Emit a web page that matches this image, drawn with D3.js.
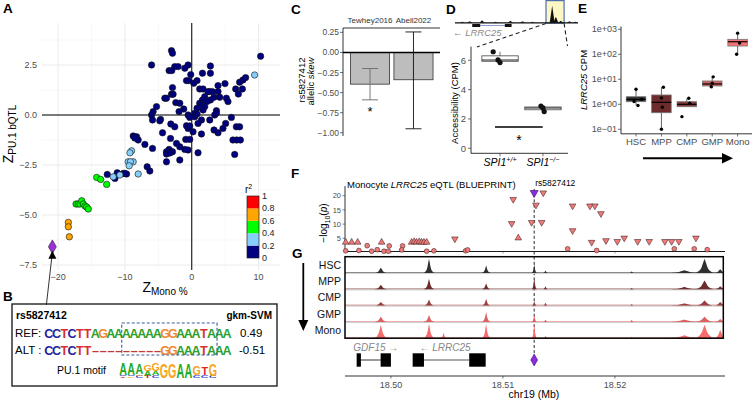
<!DOCTYPE html>
<html><head><meta charset="utf-8">
<script src="https://cdn.jsdelivr.net/npm/d3@7/dist/d3.min.js"></script>
<style>html,body{margin:0;padding:0;background:#fff;}svg{display:block;font-family:"Liberation Sans",Arial,Helvetica,sans-serif;}</style>
</head><body>
<svg id="chart" width="754" height="401"></svg>
<script>
// ================= DATA =================
// Panel A : Z(Mono %) vs Z(PU.1 bQTL), grouped by r2 class
const r2Colors = ["#000080","#87CEFA","#00FF00","#FFA500","#FF0000"];
const r2LegendTicks = [0,0.2,0.4,0.6,0.8,1];
const aXTicks = [-20,-10,0,10];
const aXMinor = [-15,-5,5];
const aYTicks = [2.5,0,-2.5,-5,-7.5];
const aYMinor = [3.75,1.25,-1.25,-3.75,-6.25];
const snpsR2_0 = [[-3.03,3.22],[-2.88,3.09],[-6.01,2.5],[-3.39,2.22],[-2.99,2.22],[-2.54,2.42],[-2.04,2.42],[-1.04,2.34],[-0.55,2.5],[-0.15,2.02],[2.79,2.45],[2.79,2.09],[1.6,2.09],[10.3,2.94],[8.06,1.87],[7.66,1.75],[7.16,1.64],[-0.79,1.72],[-0.45,1.72],[0.79,1.72],[0.3,1.59],[3.93,1.47],[4.97,1.57],[-2.88,1.37],[1.19,1.3],[1.69,1.3],[2.69,1.17],[2.43,1.17],[3.09,1.17],[6.57,1.3],[7.57,1.3],[6.97,1.05],[3.93,1.17],[-3.03,1.04],[-2.79,1.04],[-4.03,0.84],[-3.78,0.84],[1.94,0.92],[1.6,0.75],[3.33,0.89],[4.18,0.89],[5.18,0.84],[5.42,0.67],[2.79,0.75],[2.28,0.67],[-2.39,0.62],[-1.79,0.59],[1.19,0.59],[1.45,0.5],[1.94,0.42],[-5.27,0.42],[-5.78,0.17],[-6.01,0],[-1.9,0.17],[-0.55,0],[-0.3,-0.12],[3.69,0.22],[3.43,0],[0.79,0.34],[0.45,0.09],[5.93,-0.12],[-4.67,-0.22],[-5.87,-0.25],[-4.78,-0.29],[0.45,-0.09],[0.79,0.05],[2.69,-0.25],[1.45,-0.25],[0.94,-0.42],[3.69,0.1],[5.07,-0.42],[4.67,-0.67],[3.93,-0.89],[3.33,-0.75],[-3.13,-0.45],[-2.54,-0.59],[-0.79,-0.54],[-0.55,-0.67],[-0.3,-0.55],[0.19,-0.84],[1.45,-0.95],[-4.37,-0.89],[-8.76,-1.05],[-8.25,-1.09],[-8.01,-1.25],[-8.51,-1.15],[-7.01,-1.47],[-5.87,-1.67],[-3.18,-1.17],[-2.28,-1.42],[-1.79,-1.59],[-0.9,-1.22],[-0.3,-1.22],[-1.04,-1.72],[-0.55,-1.75],[-3.39,-1.72],[-2.88,-1.84],[-3.78,-1.84],[-3.78,-1.95],[0.94,-1.89],[6.67,-0.59],[7.16,-0.59],[6.16,-1.25],[6.72,-1.25],[7.27,-1.25],[6.42,-1.97],[-3.78,-2.34],[-1.79,-2.25],[-6.67,-2.59],[-6.27,-2.8],[-10.25,-2.92],[-9.75,-2.95],[-12.64,-2.97],[-11.15,-2.89],[-11.49,-3.17],[-10.0,-2.92],[-3.28,-1.9],[1.69,0.25],[-1.2,0.3]];
const snpsR2_02 = [[9.4,2.0],[-9.0,-1.79],[-9.25,-1.89],[-9.51,-2.34],[-8.76,-2.34],[-9.18,-2.34],[-9.36,-2.54],[-8.01,-2.95],[-10.75,-3.0],[-11.75,-3.09]];
const snpsR2_04 = [[-14.22,-3.12],[-13.63,-3.22],[-12.73,-3.47],[-17.31,-4.45],[-17.01,-4.45],[-16.72,-4.45],[-16.46,-4.29],[-16.22,-4.45],[-15.97,-4.55],[-15.72,-4.6],[-15.48,-4.7]];
const snpsR2_06 = [[-18.46,-5.37],[-18.46,-5.59],[-18.31,-6.09]];
const leadSnp = [-20.85,-6.59];

// Panel B : sequences
const seqRef = "CCTCTTAGAAAAAAAGGAAATAAA";
const seqAlt = "CCTCTT---------GGAAATAAA";
const gkmScores = ["0.49","-0.51"];
const motifWindow = [9.9,22.2];
const motifCols = [
  [["T",1.5],["C",1.5],["A",12]],[["G",1.5],["C",1.5],["A",12]],[["C",2],["G",1.5],["A",11]],
  [["T",2],["A",5],["G",7]],[["C",3],["A",4],["G",8]],[["G",15]],[["G",15]],[["A",15]],[["A",15]],
  [["C",3],["G",9]],[["C",3],["T",8]],[["C",2],["G",12]]
];

// Panel C : allelic skew
const cStudies = ["Tewhey2016","Abell2022"];
const cSkew = [-0.395,-0.34];
const cLow = [-0.59,-0.95];
const cHigh = [-0.2,0.255];
const cTicks = [0.25,0,-0.25,-0.5,-0.75,-1];

// Panel D : accessibility
const dGroups = ["SPI1+/+","SPI1-/-"];
const dValues = [[6.58,6.02,5.84],[2.88,2.75,2.5]];
const dJitter = [[-0.17,-0.05,0.0],[-0.05,0.0,0.03]];
const dTicks = [0,2,4,6];
const dMiniPeaks = [[0.06,1],[0.12,1.5],[0.22,2.5],[0.33,1],[0.45,2],[0.55,1.5],[0.63,1],[0.79,17],[0.82,6],[0.86,2],[0.93,1.5],[0.98,1]];
const dMiniGene = [[0.14,0.205],[0.405,0.46]];

// Panel E : LRRC25 CPM
const eCells = ["HSC","MPP","CMP","GMP","Mono"];
const eColors = ["#333333","#6e2b2b","#8e3a3a","#d96262","#f47272"];
const eQ1 = [1.27,0.46,0.8,5.4,214];
const eMed = [1.58,1.2,1.0,6.5,318];
const eQ3 = [2.01,2.36,1.27,8.56,398];
const eLo = [0.91,0.1,0.8,4.4,102];
const eHi = [4.0,4.8,1.74,12.7,730];
const ePoints = [[4.0,1.6,1.3,0.9],[4.8,1.8,0.76,0.1],[1.74,1.1,0.32],[12.5,7.0,5.0],[700,280,100]];
const eTicks = [0.1,1,10,100,1000];
const eTickLabels = ["1e\u221201","1e+00","1e+01","1e+02","1e+03"];

// Panel F : eQTL
const fPos = [18.49596,18.49649,18.49703,18.49596,18.49714,18.49788,18.49828,18.49878,18.49917,18.49938,18.49985,18.49976,18.50104,18.50096,18.50185,18.50208,18.50229,18.50253,18.50274,18.50295,18.50319,18.50319,18.50384,18.50571,18.50667,18.50685,18.51092,18.51078,18.51137,18.51256,18.5136,18.51295,18.51346,18.51578,18.51622,18.51622,18.51777,18.51821,18.51875,18.51792,18.51837,18.5192,18.52021,18.52083,18.52203,18.52306,18.52446,18.52506,18.52571,18.5253,18.52723,18.52708,18.52824];
const fLogP = [3.6,3.6,3.6,0.6,0.7,2.4,0.45,1.0,3.6,0.45,2.3,0.45,2.3,0.9,3.6,3.8,3.6,3.8,3.6,3.6,3.6,0.45,0.6,4.8,0.6,0.9,18.7,10.2,5.1,10.6,21,16.7,10.6,1.3,16.4,7.7,16.4,16.4,13.7,3.6,0.7,4.2,3.9,5.1,3.9,3.9,3.9,3.9,3.9,1.3,5.1,1.3,1.0];
const fShape = ["u","u","u","c","c","c","c","c","u","c","c","c","c","c","u","u","u","u","u","u","u","c","c","d","c","c","d","d","u","d","d","d","d","c","d","d","d","d","d","d","c","d","d","d","d","d","d","d","d","c","d","c","c"];
const fLead = [18.51279,21];
const fTicks = [5,10,15,20];
const chrTicks = [18.50,18.51,18.52];

// Panel G : ATAC tracks
const gTracks = ["HSC","MPP","CMP","GMP","Mono"];
const gColors = ["#303030","#6e2b2b","#9a3f3f","#dc6262","#f76c6c"];
const gPeakPos = [18.4991,18.5034,18.5047,18.5085,18.5128,18.5138,18.5215,18.5262,18.5280,18.5294];
const gPeakWidth = [0.0006,0.0005,0.0003,0.0004,0.00025,0.00025,0.0002,0.0016,0.0009,0.0006];
const gHeights = [
  [0.35,0.95,0.0,0.5,0.6,0.15,0.12,0.18,0.95,0.25],
  [0.3,0.7,0.0,0.4,0.75,0.2,0.1,0.15,0.6,0.2],
  [0.25,0.4,0.0,0.45,0.3,0.2,0.1,0.15,0.35,0.25],
  [0.35,0.45,0.0,0.65,0.45,0.15,0.15,0.15,0.35,0.2],
  [0.9,0.95,0.35,0.95,0.95,0.15,0.1,0.2,0.9,0.55]
];
const geneExons = [[18.49694,18.49732],[18.49908,18.5],[18.50194,18.50295],[18.50699,18.50846]];
const geneIntrons = [[18.49732,18.49908],[18.50295,18.50699]];

// ================= DRAW =================
const svg = d3.select("#chart");
svg.append("rect").attr("width",754).attr("height",401).attr("fill","#fff");
const TXT = "#4d4d4d";
function txt(g,x,y,s,o={}){
  const e=g.append("text").attr("x",x).attr("y",y).text(s)
    .attr("font-size",o.size||9).attr("fill",o.fill||"#000");
  if(o.anchor)e.attr("text-anchor",o.anchor);
  if(o.bold)e.attr("font-weight","bold");
  if(o.italic)e.attr("font-style","italic");
  return e;
}
// panel letters
[["A",3,13],["B",3,301],["C",291,13.5],["D",446,13.5],["E",578,13],["F",291,178],["G",292,258]]
  .forEach(d=>txt(svg,d[1],d[2],d[0],{size:13.5,bold:true}));

// ---------- Panel A ----------
const gA = svg.append("g");
const ax = d3.scaleLinear().domain([-22.4,13.2]).range([42,280]);
const ay = d3.scaleLinear().domain([4.6,-7.75]).range([23,270]);
aXMinor.forEach(v=>gA.append("line").attr("x1",ax(v)).attr("x2",ax(v)).attr("y1",23).attr("y2",270).attr("stroke","#f2f2f2").attr("stroke-width",0.6));
aYMinor.forEach(v=>gA.append("line").attr("y1",ay(v)).attr("y2",ay(v)).attr("x1",42).attr("x2",280).attr("stroke","#f2f2f2").attr("stroke-width",0.6));
aXTicks.forEach(v=>gA.append("line").attr("x1",ax(v)).attr("x2",ax(v)).attr("y1",23).attr("y2",270).attr("stroke","#ebebeb").attr("stroke-width",1));
aYTicks.forEach(v=>gA.append("line").attr("y1",ay(v)).attr("y2",ay(v)).attr("x1",42).attr("x2",280).attr("stroke","#ebebeb").attr("stroke-width",1));
gA.append("line").attr("x1",ax(0)).attr("x2",ax(0)).attr("y1",23).attr("y2",270).attr("stroke","#000").attr("stroke-width",1);
gA.append("line").attr("y1",ay(0)).attr("y2",ay(0)).attr("x1",42).attr("x2",280).attr("stroke","#000").attr("stroke-width",1);
const fmtA = d3.format(".1f"), fmtAx = d3.format("d");
aYTicks.forEach(v=>txt(gA,37,ay(v)+3,fmtA(v),{size:9,fill:TXT,anchor:"end"}));
aXTicks.forEach(v=>txt(gA,ax(v),280,fmtAx(v),{size:9,fill:TXT,anchor:"middle"}));
// titles
const xt = gA.append("text").attr("x",165).attr("y",292).attr("text-anchor","middle");
xt.append("tspan").text("Z").attr("font-size",14);
xt.append("tspan").text("Mono %").attr("font-size",10).attr("dy",3);
const yt = gA.append("text").attr("transform","translate(13,134) rotate(-90)").attr("text-anchor","middle");
yt.append("tspan").text("Z").attr("font-size",14);
yt.append("tspan").text("PU.1 bQTL").attr("font-size",10).attr("dy",3);
// points
[[snpsR2_0,0],[snpsR2_02,1],[snpsR2_04,2],[snpsR2_06,3]].forEach(([arr,ci])=>{
  gA.selectAll(null).data(arr).enter().append("circle")
    .attr("cx",d=>ax(d[0])).attr("cy",d=>ay(d[1])).attr("r",3.2)
    .attr("fill",r2Colors[ci]).attr("stroke","#111").attr("stroke-width",0.6);
});
gA.append("path").attr("d",d3.symbol(d3.symbolDiamond,55)())
  .attr("transform",`translate(${ax(leadSnp[0])},${ay(leadSnp[1])})`)
  .attr("fill","#9a30d8").attr("stroke","#222").attr("stroke-width",0.6);
// arrow from B to lead SNP
const lx = ax(leadSnp[0]), ly = ay(leadSnp[1]);
gA.append("line").attr("x1",lx-6).attr("y1",305).attr("x2",lx-0.5).attr("y2",ly+10).attr("stroke","#000").attr("stroke-width",0.8);
gA.append("path").attr("d",`M${lx},${ly+4} L${lx-4},${ly+12} L${lx+4},${ly+12} Z`).attr("fill","#000");
// r2 legend
const lg = d3.scaleLinear().domain([0,1]).range([258,196]);
for(let i=0;i<5;i++){
  gA.append("rect").attr("x",247).attr("width",12).attr("y",lg(r2LegendTicks[i+1])).attr("height",lg(r2LegendTicks[i])-lg(r2LegendTicks[i+1])).attr("fill",r2Colors[i]);
}
gA.append("rect").attr("x",247).attr("width",12).attr("y",lg(1)).attr("height",lg(0)-lg(1)).attr("fill","none").attr("stroke","#222").attr("stroke-width",0.7);
r2LegendTicks.forEach(v=>txt(gA,262,lg(v)+3,String(v),{size:9,fill:"#222"}));
const r2t = gA.append("text").attr("x",245).attr("y",193).attr("font-size",10);
r2t.append("tspan").text("r");
r2t.append("tspan").text("2").attr("font-size",7).attr("dy",-4);

// ---------- Panel B ----------
const gB = svg.append("g");
gB.append("rect").attr("x",12).attr("y",304).attr("width",265).attr("height",82).attr("fill","none").attr("stroke","#222").attr("stroke-width",1.4);
txt(gB,16,319,"rs5827412",{size:10.5,bold:true});
txt(gB,272,319,"gkm-SVM",{size:10,bold:true,anchor:"end"});
txt(gB,15,337,"REF:",{size:11.5});
txt(gB,15,354,"ALT :",{size:11.5});
const baseColors = {A:"#2ca02c",C:"#23239e",G:"#f08a2e",T:"#d63030","-":"#c03a3a"};
const bx = d3.scaleLinear().domain([0,24]).range([45,231]);
[[seqRef,337.5],[seqAlt,354.5]].forEach(([s,y])=>{
  s.split("").forEach((ch,i)=>{
    gB.append("text").attr("x",bx(i+0.5)).attr("y",y).attr("text-anchor","middle")
      .attr("font-size",12.5).attr("font-weight","bold").attr("fill",baseColors[ch])
      .text(ch==="-"?"\u2013":ch);
  });
});
gB.append("rect").attr("x",bx(motifWindow[0])).attr("width",bx(motifWindow[1])-bx(motifWindow[0]))
  .attr("y",323).attr("height",32).attr("fill","none").attr("stroke","#3a5a9a").attr("stroke-width",1.1).attr("stroke-dasharray","3,2");
txt(gB,240,337,gkmScores[0],{size:11.5});
txt(gB,239,354,gkmScores[1],{size:11.5});
txt(gB,57,374,"PU.1 motif",{size:10.5});
// motif logo (stacked letters drawn as one text per column with scaled tspans)
const mx = d3.scaleLinear().domain([0,12]).range([119,217]);
const motifColors = {A:"#22aa22",C:"#2233cc",G:"#f5a623",T:"#e02424"};
const logoG = gB.append("g");
motifCols.forEach((col,i)=>{
  let base = 377.5;
  col.forEach(([L,h])=>{
    const sx = (mx(1)-mx(0))/7.6, sy = h/7.3;
    logoG.append("path")
      .attr("d","M0,0")
      .attr("data-letter",L);
    logoG.append("text").attr("transform",`translate(${mx(i+0.5)},${base}) scale(${sx},${sy})`)
      .attr("text-anchor","middle").attr("font-size",10).attr("font-weight","bold")
      .attr("fill",motifColors[L]).text(L);
    base -= h;
  });
});

// ---------- Panel C ----------
const gC = svg.append("g");
const cy = d3.scaleLinear().domain([0.304,-1.04]).range([28,136]);
const cx = d3.scaleBand().domain(cStudies).range([348.3,435.2]).paddingInner(0.1).paddingOuter(0.05);
gC.append("line").attr("x1",343).attr("x2",343).attr("y1",28).attr("y2",136).attr("stroke","#000").attr("stroke-width",0.8);
gC.append("line").attr("x1",343).attr("x2",440).attr("y1",28).attr("y2",28).attr("stroke","#000").attr("stroke-width",0.8);
cTicks.forEach(v=>{
  gC.append("line").attr("x1",340).attr("x2",343).attr("y1",cy(v)).attr("y2",cy(v)).attr("stroke","#333").attr("stroke-width",0.7);
  txt(gC,339,cy(v)+3,d3.format(".2f")(v),{size:8.5,fill:TXT,anchor:"end"});
});
cStudies.forEach((s,i)=>{
  gC.append("rect").attr("x",cx(s)).attr("width",cx.bandwidth()).attr("y",cy(0)).attr("height",cy(cSkew[i])-cy(0))
    .attr("fill","#bdbdbd").attr("stroke","#333").attr("stroke-width",0.8);
  txt(gC,cx(s)+cx.bandwidth()/2,23,s,{size:8,fill:"#333",anchor:"middle"});
});
gC.append("line").attr("x1",343).attr("x2",440).attr("y1",cy(0)).attr("y2",cy(0)).attr("stroke","#000").attr("stroke-width",1.6);
const errCol = ["#6a6a6a","#111"];
cStudies.forEach((s,i)=>{
  const xc = cx(s)+cx.bandwidth()/2;
  gC.append("line").attr("x1",xc).attr("x2",xc).attr("y1",cy(cHigh[i])).attr("y2",cy(cLow[i])).attr("stroke",errCol[i]).attr("stroke-width",0.9);
  [cHigh[i],cLow[i]].forEach(v=>gC.append("line").attr("x1",xc-8).attr("x2",xc+8).attr("y1",cy(v)).attr("y2",cy(v)).attr("stroke",errCol[i]).attr("stroke-width",0.9));
});
txt(gC,cx(cStudies[0])+cx.bandwidth()/2,116,"*",{size:13,anchor:"middle"});
txt(gC,305,80,"rs5827412",{size:9.5,anchor:"middle"}).attr("transform","rotate(-90,305,80)");
const cyl = gC.append("text").attr("x",313.5).attr("y",81.5).attr("font-size",9.5).attr("text-anchor","middle").attr("transform","rotate(-90,313.5,81.5)");
cyl.append("tspan").text("allelic ");
cyl.append("tspan").text("skew").attr("font-style","italic");

// ---------- Panel D ----------
const gD = svg.append("g");
const dm = d3.scaleLinear().domain([0,1]).range([455,578]);
gD.append("rect").attr("x",dm(0.74)).attr("y",0.6).attr("width",dm(0.887)-dm(0.74)).attr("height",22.5).attr("fill","#fdf7c6").attr("stroke","#4d6fb0").attr("stroke-width",1.2);
gD.append("line").attr("x1",dm(0)).attr("x2",dm(1)).attr("y1",22.8).attr("y2",22.8).attr("stroke","#111").attr("stroke-width",1.3);
dMiniPeaks.forEach(([p,h])=>{
  gD.append("path").attr("d",`M${dm(p)-2.5},22.8 L${dm(p)},${22.8-h} L${dm(p)+2.5},22.8 Z`).attr("fill","#111");
});
gD.append("line").attr("x1",dm(dMiniGene[0][1])).attr("x2",dm(dMiniGene[1][0])).attr("y1",25.5).attr("y2",25.5).attr("stroke","#6f84c8").attr("stroke-width",0.8);
dMiniGene.forEach(g=>gD.append("rect").attr("x",dm(g[0])).attr("width",dm(g[1])-dm(g[0])).attr("y",24).attr("height",3).attr("fill","#111"));
const lrr = gD.append("text").attr("x",453).attr("y",36).attr("font-size",9.5).attr("fill","#888");
lrr.append("tspan").text("\u2190 ");
lrr.append("tspan").text("LRRC25").attr("font-style","italic");
gD.append("line").attr("x1",dm(0.74)).attr("y1",23.5).attr("x2",477).attr("y2",47).attr("stroke","#222").attr("stroke-width",1.1).attr("stroke-dasharray","4,3");
gD.append("line").attr("x1",dm(0.887)).attr("y1",23.5).attr("x2",567.5).attr("y2",46).attr("stroke","#222").attr("stroke-width",1.1).attr("stroke-dasharray","4,3");
const dy = d3.scaleLinear().domain([-0.34,6.93]).range([153.3,46.6]);
const dx = d3.scaleBand().domain(dGroups).range([479,564]).paddingInner(0.06).paddingOuter(0.02);
gD.append("line").attr("x1",471).attr("x2",471).attr("y1",46.6).attr("y2",153.3).attr("stroke","#000").attr("stroke-width",0.8);
gD.append("line").attr("x1",471).attr("x2",568).attr("y1",153.3).attr("y2",153.3).attr("stroke","#000").attr("stroke-width",0.8);
dTicks.forEach(v=>{
  gD.append("line").attr("x1",468).attr("x2",471).attr("y1",dy(v)).attr("y2",dy(v)).attr("stroke","#333").attr("stroke-width",0.7);
  txt(gD,466,dy(v)+3.5,String(v),{size:9.5,fill:TXT,anchor:"end"});
});
dGroups.forEach((g,i)=>{
  const vals = dValues[i].slice().sort(d3.ascending);
  const q1=d3.quantile(vals,0.25), med=d3.quantile(vals,0.5), q3=d3.quantile(vals,0.75);
  const x0=dx(g), w=dx.bandwidth(), xc=x0+w/2;
  gD.append("line").attr("x1",xc).attr("x2",xc).attr("y1",dy(vals[vals.length-1])).attr("y2",dy(vals[0])).attr("stroke","#333").attr("stroke-width",0.7);
  gD.append("rect").attr("x",x0+w*0.05).attr("width",w*0.9).attr("y",dy(q3)).attr("height",dy(q1)-dy(q3)).attr("fill","#fff").attr("stroke","#444").attr("stroke-width",0.8);
  gD.append("line").attr("x1",x0+w*0.05).attr("x2",x0+w*0.95).attr("y1",dy(med)).attr("y2",dy(med)).attr("stroke","#222").attr("stroke-width",1.1);
  gD.append("line").attr("x1",xc).attr("x2",xc).attr("y1",153.3).attr("y2",156.3).attr("stroke","#333").attr("stroke-width",0.7);
  dValues[i].forEach((v,j)=>gD.append("circle").attr("cx",xc+dJitter[i][j]*w).attr("cy",dy(v)).attr("r",2.6).attr("fill","#111"));
  const lab = gD.append("text").attr("x",xc).attr("y",166).attr("text-anchor","middle").attr("font-size",10.5).attr("font-style","italic");
  lab.append("tspan").text("SPI1");
  lab.append("tspan").text(i===0?"+/+":"\u2212/\u2212").attr("font-size",7).attr("dy",-4.5);
});
gD.append("line").attr("x1",495).attr("x2",542.7).attr("y1",dy(1.45)).attr("y2",dy(1.45)).attr("stroke","#000").attr("stroke-width",1.4);
txt(gD,519,145,"*",{size:14,anchor:"middle"});
txt(gD,458,103,"Accessibility (CPM)",{size:9.5,anchor:"middle"}).attr("transform","rotate(-90,458,103)");

// ---------- Panel E ----------
const gE = svg.append("g");
const ey = d3.scaleLog().domain([0.066,1300]).range([133.8,26.45]);
const ex = d3.scaleBand().domain(eCells).range([626.25,747.4]).paddingInner(0.23).paddingOuter(0);
gE.append("line").attr("x1",621).attr("x2",621).attr("y1",26.5).attr("y2",133.8).attr("stroke","#000").attr("stroke-width",0.8);
gE.append("line").attr("x1",621).attr("x2",752).attr("y1",133.8).attr("y2",133.8).attr("stroke","#000").attr("stroke-width",0.8);
eTicks.forEach((v,i)=>{
  gE.append("line").attr("x1",618).attr("x2",621).attr("y1",ey(v)).attr("y2",ey(v)).attr("stroke","#333").attr("stroke-width",0.7);
  txt(gE,617,ey(v)+3,eTickLabels[i],{size:9,fill:TXT,anchor:"end"});
});
const eJit = [[0.0,0.3,-0.1,0.1],[0.1,0.0,0.05,0.0],[0.1,0.15,-0.25],[0.05,0.0,-0.05],[0.0,0.1,-0.05]];
eCells.forEach((c,i)=>{
  const x0=ex(c), w=ex.bandwidth(), xc=x0+w/2;
  gE.append("line").attr("x1",xc).attr("x2",xc).attr("y1",ey(eHi[i])).attr("y2",ey(eLo[i])).attr("stroke","#222").attr("stroke-width",0.7);
  gE.append("rect").attr("x",x0).attr("width",w).attr("y",ey(eQ3[i])).attr("height",ey(eQ1[i])-ey(eQ3[i])).attr("fill",eColors[i]).attr("stroke","#777").attr("stroke-width",0.8);
  gE.append("line").attr("x1",x0).attr("x2",x0+w).attr("y1",ey(eMed[i])).attr("y2",ey(eMed[i])).attr("stroke","#000").attr("stroke-width",1.2);
  ePoints[i].forEach((v,j)=>gE.append("circle").attr("cx",xc+eJit[i][j]*w).attr("cy",ey(v)).attr("r",1.7).attr("fill","#000"));
  gE.append("line").attr("x1",xc).attr("x2",xc).attr("y1",133.8).attr("y2",136.5).attr("stroke","#333").attr("stroke-width",0.7);
  txt(gE,xc,145,c,{size:9.5,fill:TXT,anchor:"middle"});
});
const eyl = gE.append("text").attr("x",587).attr("y",80).attr("font-size",9.5).attr("text-anchor","middle").attr("transform","rotate(-90,587,80)");
eyl.append("tspan").text("LRRC25").attr("font-style","italic");
eyl.append("tspan").text(" CPM");
gE.append("line").attr("x1",643).attr("x2",724).attr("y1",158.3).attr("y2",158.3).attr("stroke","#000").attr("stroke-width",2);
gE.append("path").attr("d","M733,158.3 L722,153 L722,163.6 Z").attr("fill","#000");

// ---------- Panel F ----------
const gF = svg.append("g");
const fx = d3.scaleLinear().domain([18.4959,18.5298]).range([345,724.7]);
const fy = d3.scaleLinear().domain([0,22.7]).range([252.5,188]);
gF.append("line").attr("x1",345).attr("x2",345).attr("y1",186).attr("y2",251.5).attr("stroke","#000").attr("stroke-width",0.8);
gF.append("line").attr("x1",345).attr("x2",725).attr("y1",251.5).attr("y2",251.5).attr("stroke","#000").attr("stroke-width",0.9);
fTicks.forEach(v=>{
  gF.append("line").attr("x1",342.5).attr("x2",345).attr("y1",fy(v)).attr("y2",fy(v)).attr("stroke","#333").attr("stroke-width",0.6);
  txt(gF,341,fy(v)+2.7,String(v),{size:7.5,fill:TXT,anchor:"end"});
});
chrTicks.forEach(v=>gF.append("line").attr("x1",fx(v)).attr("x2",fx(v)).attr("y1",251.5).attr("y2",253.5).attr("stroke","#555").attr("stroke-width",0.6));
const ftl = gF.append("text").attr("x",347).attr("y",188).attr("font-size",9.5);
ftl.append("tspan").text("Monocyte ");
ftl.append("tspan").text("LRRC25").attr("font-style","italic");
ftl.append("tspan").text(" eQTL (BLUEPRINT)");
txt(gF,fx(fLead[0])+1,186,"rs5827412",{size:8.5});
const fyl = gF.append("text").attr("x",327).attr("y",223).attr("font-size",10).attr("text-anchor","middle").attr("transform","rotate(-90,327,223)");
fyl.append("tspan").text("\u2212log");
fyl.append("tspan").text("10").attr("font-size",7).attr("dy",2.5);
fyl.append("tspan").text("(").attr("dy",-2.5);
fyl.append("tspan").text("p").attr("font-style","italic");
fyl.append("tspan").text(")");
// dashed lead line
gF.append("line").attr("x1",fx(fLead[0])).attr("x2",fx(fLead[0])).attr("y1",189).attr("y2",360).attr("stroke","#111").attr("stroke-width",0.9).attr("stroke-dasharray","3,2.2");
const tri = d3.symbol(d3.symbolTriangle,19)();
fPos.forEach((p,i)=>{
  const x=fx(p), y=fy(fLogP[i]);
  if(fShape[i]==="c"){
    gF.append("circle").attr("cx",x).attr("cy",y).attr("r",2.4).attr("fill","#f07a7a").attr("stroke","#4a2a2a").attr("stroke-width",0.6);
  } else {
    gF.append("path").attr("d",tri).attr("transform",`translate(${x},${y}) rotate(${fShape[i]==="d"?180:0})`)
      .attr("fill","#f07a7a").attr("stroke","#4a2a2a").attr("stroke-width",0.6);
  }
});
gF.append("path").attr("d",d3.symbol(d3.symbolTriangle,28)()).attr("transform",`translate(${fx(fLead[0])},${fy(fLead[1])}) rotate(180)`)
  .attr("fill","#8a2be2").attr("stroke","#3a1a5a").attr("stroke-width",0.6);

// ---------- Panel G ----------
const gG = svg.append("g");
const rowTop = 256.7, rowH = 16.3;
gTracks.forEach((t,i)=>{
  const base = rowTop + rowH*(i+1);
  if(i<4) gG.append("line").attr("x1",345).attr("x2",723.3).attr("y1",base+0.6).attr("y2",base+0.6).attr("stroke","#cfcfcf").attr("stroke-width",1);
  gG.append("line").attr("x1",345).attr("x2",723.3).attr("y1",base-0.5).attr("y2",base-0.5).attr("stroke",gColors[i]).attr("stroke-width",0.8).attr("opacity",0.7);
  gPeakPos.forEach((p,k)=>{
    const h = gHeights[i][k]*(rowH-1.5);
    if(h<=0) return;
    const w = gPeakWidth[k];
    const pts = [[p-w,0],[p-w*0.6,h*0.12],[p-w*0.3,h*0.4],[p-w*0.08,h*0.85],[p,h],[p+w*0.08,h*0.85],[p+w*0.3,h*0.4],[p+w*0.6,h*0.12],[p+w,0]];
    const line = d3.line().x(d=>Math.min(fx(d[0]),723.3)).y(d=>base-d[1]).curve(d3.curveMonotoneX);
    gG.append("path").attr("d",line(pts)+"Z").attr("fill",gColors[i]);
  });
  txt(gG,341,rowTop+rowH*(i+0.5)+4,t,{size:10.5,fill:"#111",anchor:"end"});
});
gG.append("rect").attr("x",345).attr("y",rowTop).attr("width",723.3-345).attr("height",rowH*5).attr("fill","none").attr("stroke","#000").attr("stroke-width",1.5);
// down arrow
gG.append("line").attr("x1",303.3).attr("x2",303.3).attr("y1",263).attr("y2",322).attr("stroke","#000").attr("stroke-width",1.8);
gG.append("path").attr("d","M303.3,331 L298.3,320 L308.3,320 Z").attr("fill","#000");
// genes
const g1 = gG.append("text").attr("x",fx(18.49664)).attr("y",351).attr("font-size",10).attr("fill","#888");
g1.append("tspan").text("GDF15").attr("font-style","italic");
g1.append("tspan").text(" \u2192");
const g2 = gG.append("text").attr("x",fx(18.50255)).attr("y",351).attr("font-size",10).attr("fill","#888");
g2.append("tspan").text("\u2190 ");
g2.append("tspan").text("LRRC25").attr("font-style","italic");
geneIntrons.forEach(d=>gG.append("line").attr("x1",fx(d[0])).attr("x2",fx(d[1])).attr("y1",360).attr("y2",360).attr("stroke","#555").attr("stroke-width",1.2));
geneExons.forEach(d=>gG.append("rect").attr("x",fx(d[0])).attr("width",fx(d[1])-fx(d[0])).attr("y",353.3).attr("height",13.4).attr("fill","#000"));
gG.append("path").attr("d",d3.symbol(d3.symbolDiamond,40)()).attr("transform",`translate(${fx(fLead[0])},360)`).attr("fill","#8a2be2").attr("stroke","#3a1a5a").attr("stroke-width",0.6);
// chr axis
gG.append("line").attr("x1",345).attr("x2",725).attr("y1",376).attr("y2",376).attr("stroke","#333").attr("stroke-width",1);
chrTicks.forEach(v=>{
  gG.append("line").attr("x1",fx(v)).attr("x2",fx(v)).attr("y1",376).attr("y2",378.5).attr("stroke","#333").attr("stroke-width",0.7);
  txt(gG,fx(v),387.5,d3.format(".2f")(v),{size:9,fill:TXT,anchor:"middle"});
});
txt(gG,534,398,"chr19 (Mb)",{size:10.5,anchor:"middle"});
</script>
</body></html>
